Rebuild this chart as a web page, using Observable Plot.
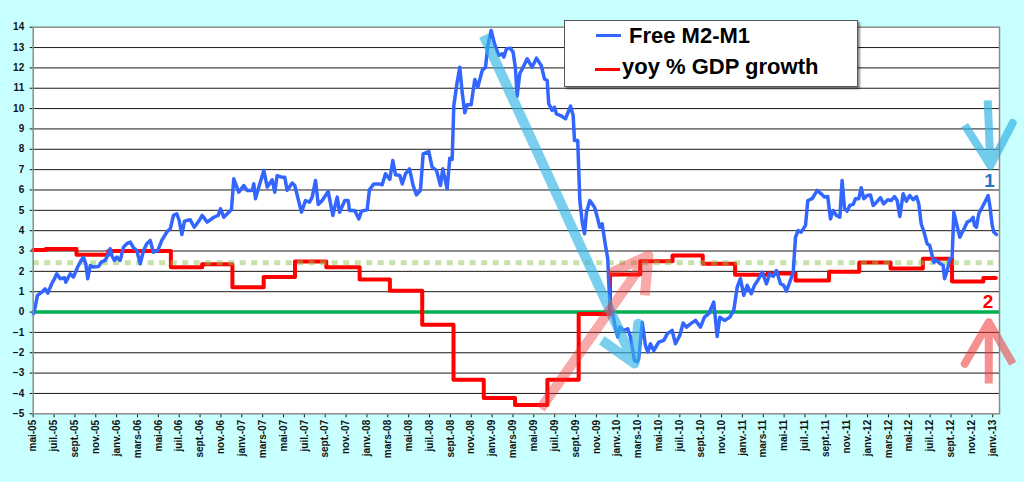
<!DOCTYPE html>
<html>
<head>
<meta charset="utf-8">
<script src="https://cdn.jsdelivr.net/npm/d3@7"></script>
<script src="https://cdn.jsdelivr.net/npm/@observablehq/plot@0.6"></script>
<style>
html, body { margin: 0; padding: 0; background: #c8ffff; }
#wrap { position: relative; width: 1024px; height: 482px; overflow: hidden; font-family: "Liberation Sans", Arial, sans-serif; }
#legend { position: absolute; left: 564px; top: 20px; width: 292px; height: 65px; background: #fff; border: 1px solid #555; box-shadow: 2px 2px 2px rgba(0,0,0,0.45); }
.sw { position: absolute; height: 3px; width: 25px; }
.lt { position: absolute; font-weight: bold; font-size: 22px; line-height: 22px; color: #000; white-space: nowrap; }
</style>
</head>
<body>
<div id="wrap">
  <div id="chart"></div>
  <div id="legend">
    <div class="sw" style="left:31px;top:13px;background:#3366ff"></div>
    <div class="lt" id="lg1" style="left:64px;top:4px"></div>
    <div class="sw" style="left:30px;top:47px;background:#ff0000"></div>
    <div class="lt" id="lg2" style="left:57px;top:35px"></div>
  </div>
</div>
<script>
// ---- data (x = months since May 2005) ----
const seriesNames = ["Free M2-M1", "yoy % GDP growth"];

const tickLabels = [
  "mai-05","juil.-05","sept.-05","nov.-05",
  "janv.-06","mars-06","mai-06","juil.-06","sept.-06","nov.-06",
  "janv.-07","mars-07","mai-07","juil.-07","sept.-07","nov.-07",
  "janv.-08","mars-08","mai-08","juil.-08","sept.-08","nov.-08",
  "janv.-09","mars-09","mai-09","juil.-09","sept.-09","nov.-09",
  "janv.-10","mars-10","mai-10","juil.-10","sept.-10","nov.-10",
  "janv.-11","mars-11","mai-11","juil.-11","sept.-11","nov.-11",
  "janv.-12","mars-12","mai-12","juil.-12","sept.-12","nov.-12",
  "janv.-13"
];
const yTicks = [-5,-4,-3,-2,-1,0,1,2,3,4,5,6,7,8,9,10,11,12,13,14];

const blueSeries = [
[0.03,-0.08],[0.19,0.24],[0.41,0.82],[0.82,0.98],[1.15,1.14],[1.40,0.93],[1.78,1.39],[2.04,1.64],[2.26,1.88],[2.59,1.64],
[3.00,1.69],[3.13,1.47],[3.55,1.88],[3.86,1.72],[4.28,2.24],[4.60,2.54],[4.82,2.70],[5.04,2.37],[5.23,1.64],[5.47,2.29],
[5.78,2.21],[6.26,2.24],[6.52,2.45],[6.90,2.54],[7.22,2.86],[7.38,3.11],[7.54,2.78],[7.79,2.54],[8.02,2.70],[8.34,2.54],
[8.66,3.19],[8.97,3.36],[9.30,3.44],[9.62,3.16],[9.93,3.03],[10.26,2.37],[10.58,3.03],[10.89,3.36],[11.22,3.52],[11.53,2.94],
[11.95,3.03],[12.33,3.52],[12.81,3.93],[13.14,4.09],[13.45,4.75],[13.77,4.83],[14.00,4.50],[14.25,3.81],[14.51,4.47],[15.05,4.54],
[15.44,4.17],[15.92,4.50],[16.20,4.75],[16.68,4.42],[17.32,4.66],[17.74,4.75],[17.96,5.08],[18.27,4.66],[18.75,4.91],[19.01,5.03],
[19.23,6.55],[19.71,5.89],[20.19,6.22],[20.52,5.98],[21.00,5.98],[21.15,6.30],[21.31,5.57],[21.63,6.14],[22.11,6.96],[22.44,6.14],
[22.91,6.50],[23.16,5.89],[23.39,6.71],[23.81,6.63],[24.12,6.63],[24.35,5.98],[24.83,6.34],[25.08,6.22],[25.72,4.91],[26.11,5.48],
[26.49,5.40],[26.75,5.65],[27.07,6.47],[27.33,5.29],[27.71,5.48],[28.28,5.93],[28.73,4.75],[29.15,5.65],[29.37,4.91],[29.88,5.48],
[30.20,5.48],[30.33,4.99],[30.83,4.99],[31.22,4.58],[31.48,4.96],[32.02,5.03],[32.24,6.01],[32.66,6.30],[33.14,6.30],[33.46,6.26],
[33.78,6.80],[34.19,6.52],[34.48,7.45],[34.74,6.75],[35.15,6.71],[35.38,6.30],[35.70,6.80],[36.08,7.04],[36.43,6.22],[36.75,5.76],
[37.13,5.98],[37.39,7.78],[37.93,7.89],[38.25,7.12],[38.67,6.96],[39.05,6.22],[39.27,7.04],[39.69,6.06],[39.94,7.56],[40.17,7.50],
[40.33,10.15],[40.65,11.30],[40.90,12.03],[41.13,10.80],[41.38,9.79],[41.61,10.19],[41.99,10.19],[42.34,11.43],[42.63,11.05],[43.05,11.87],
[43.37,12.03],[43.59,13.10],[43.91,13.84],[44.23,13.18],[44.64,12.61],[44.97,12.69],[45.12,12.53],[45.38,12.94],[45.76,12.97],[46.02,12.77],
[46.24,11.96],[46.40,10.61],[46.65,11.71],[47.04,12.10],[47.36,12.45],[47.84,12.03],[48.25,12.48],[48.71,12.12],[49.02,11.46],[49.28,11.38],
[49.43,10.24],[49.76,9.91],[49.98,10.07],[50.17,9.74],[50.56,9.66],[51.04,9.50],[51.52,10.12],[51.77,9.66],[51.90,8.43],[52.21,8.43],
[52.41,5.48],[52.64,4.42],[52.86,3.85],[53.05,4.91],[53.37,5.48],[53.82,5.15],[54.13,4.58],[54.32,4.17],[54.55,4.34],[54.87,3.27],
[55.09,2.62],[55.19,1.39],[55.35,0.16],[55.61,-0.17],[55.83,-0.82],[56.05,-1.23],[56.24,-0.74],[56.63,-0.90],[57.01,-0.82],[57.27,-1.23],
[57.65,-2.38],[57.91,-2.45],[58.06,-2.30],[58.39,-0.50],[58.70,-1.64],[58.93,-1.97],[59.18,-1.56],[59.50,-1.89],[59.98,-1.48],[60.46,-1.39],
[60.79,-1.07],[61.26,-0.90],[61.58,-1.56],[61.99,-1.15],[62.32,-0.54],[62.64,-0.74],[63.02,-0.58],[63.50,-0.41],[63.98,-0.74],[64.36,-0.25],
[64.77,-0.08],[65.25,0.49],[65.58,-1.20],[65.83,-0.25],[66.28,-0.41],[66.79,-0.25],[67.17,0.08],[67.50,1.22],[67.81,1.64],[68.13,0.82],
[68.46,1.31],[68.84,0.90],[69.16,1.31],[69.47,1.55],[69.89,1.96],[70.31,1.39],[70.62,1.88],[70.95,1.75],[71.26,2.04],[71.65,1.39],
[71.96,1.31],[72.22,1.03],[72.54,1.47],[72.87,1.96],[73.09,3.68],[73.35,4.01],[73.63,3.93],[74.05,4.26],[74.27,5.48],[74.69,5.57],
[75.17,5.98],[75.55,5.81],[75.87,5.65],[76.18,5.68],[76.44,4.58],[76.70,4.99],[77.02,4.75],[77.34,4.66],[77.56,6.47],[77.79,5.08],
[78.04,4.96],[78.29,5.24],[78.62,5.29],[78.84,5.57],[79.16,5.57],[79.39,6.11],[79.64,5.57],[79.96,5.73],[80.28,5.75],[80.54,5.24],
[80.86,5.40],[81.24,5.62],[81.55,5.32],[81.94,5.52],[82.26,5.48],[82.58,5.68],[82.84,5.48],[83.09,4.70],[83.41,5.81],[83.73,5.45],
[84.05,5.73],[84.37,5.52],[84.69,5.68],[84.91,5.32],[85.14,4.34],[85.46,3.85],[85.71,3.36],[85.96,3.27],[86.19,2.78],[86.35,2.45],
[86.61,2.54],[86.99,2.37],[87.25,2.29],[87.38,1.64],[87.64,2.04],[87.88,2.62],[88.11,2.70],[88.27,4.91],[88.53,4.34],[88.84,3.68],
[89.17,4.01],[89.55,4.42],[89.87,4.50],[90.12,4.66],[90.25,4.26],[90.44,4.17],[90.66,4.83],[90.99,5.15],[91.24,5.40],[91.56,5.73],
[91.72,5.24],[91.95,4.26],[92.10,3.93],[92.36,3.81]
];

const redSeries = [
[0,3.05],[1.2,3.1],[4.15,2.82],[7.2,3.0],[13.2,2.2],[16.2,2.35],[19.1,1.22],[22.1,1.72],[25.1,2.48],[28.1,2.2],
[31.3,1.6],[34.2,1.05],[37.3,-0.62],[40.3,-3.33],[43.2,-4.22],[46.2,-4.57],[49.3,-3.33],[52.3,-0.1],[55.3,1.85],[58.2,2.5],
[61.3,2.78],[64.2,2.38],[67.3,1.83],[70.4,1.9],[73.1,1.55],[76.3,1.98],[79.2,2.44],[82.2,2.14],[85.3,2.62],[88.1,1.5],
[91.1,1.67],[92.3,1.67]
];

const trendLevel = [2.42];
const zeroLevel = [0];

// annotation arrows (data coordinates: month, value)
const arrowSpecs = [
  {id:"down", x1:43.2,  y1:13.59, x2:57.65, y2:-2.53, wing:40, color:"#33b5e5", opacity:0.65, width:10},
  {id:"up",   x1:48.65, y1:-4.75, x2:58.99, y2:2.78,  wing:40, color:"#ee3333", opacity:0.42, width:10},
  {id:"r1",   x1:91.52, y1:10.4,  x2:91.78, y2:7.2,   wing:48, color:"#33b5e5", opacity:0.7,  width:8},
  {id:"r2",   x1:91.62, y1:-3.51, x2:91.62, y2:-0.5,  wing:48, color:"#ee3333", opacity:0.55, width:8}
];
const noteLabels = [
  {x:91.69, y:6.46, text:"1", color:"#1f78c0"},
  {x:91.55, y:0.5,  text:"2", color:"#ff0000"}
];

// ---- chart ----
document.getElementById("lg1").textContent = seriesNames[0];
document.getElementById("lg2").textContent = seriesNames[1];

const tickMonths = tickLabels.map((_, i) => i * 2);
const blueData = blueSeries.map(([m, v]) => ({m, v}));
const redData = redSeries.map(([m, v]) => ({m, v}));

const layout = {
  width: 1024, height: 482,
  marginLeft: 32.7, marginRight: 25, marginTop: 26.7, marginBottom: 68.7,
  style: {background: "transparent", fontFamily: '"Liberation Sans", Arial, sans-serif', fontSize: "10px", fontWeight: "bold", color: "#111"},
  x: {domain: [0, 92.65], ticks: tickMonths, tickFormat: d => tickLabels[Math.round(d / 2)], tickRotate: -90, tickSize: 4, tickPadding: 2, label: null},
  y: {domain: [-5, 14], ticks: yTicks, tickSize: 3, tickPadding: 6, label: null}
};

const probe = Plot.plot({...layout, marks: [Plot.frame()]});
const sx = probe.scale("x"), sy = probe.scale("y");
const toPx = (s, v) => s.apply ? s.apply(v) : d3.scaleLinear(s.domain, s.range)(v);
const fromPx = (s, p) => s.invert ? s.invert(p) : d3.scaleLinear(s.domain, s.range).invert(p);

function arrowPoints(a) {
  const T = [toPx(sx, a.x1), toPx(sy, a.y1)], P = [toPx(sx, a.x2), toPx(sy, a.y2)];
  const back = Math.atan2(T[1] - P[1], T[0] - P[0]);
  const half = Math.PI / 6;
  const W1 = [P[0] + a.wing * Math.cos(back + half), P[1] + a.wing * Math.sin(back + half)];
  const W2 = [P[0] + a.wing * Math.cos(back - half), P[1] + a.wing * Math.sin(back - half)];
  return [T, P, W1, P, W2].map(p => ({x: fromPx(sx, p[0]), y: fromPx(sy, p[1])}));
}

const arrowMarks = arrowSpecs.map(a => Plot.line(arrowPoints(a), {
  x: "x", y: "y", stroke: a.color, strokeOpacity: a.opacity, strokeWidth: a.width,
  strokeLinejoin: "round", strokeLinecap: "butt"
}));

const chart = Plot.plot({
  ...layout,
  marks: [
    Plot.frame({fill: "white", stroke: null}),
    Plot.ruleY(yTicks.filter(v => v > -5 && v < 14), {stroke: "#1a1a1a", strokeWidth: 1}),
    Plot.ruleY(zeroLevel, {stroke: "#00b050", strokeWidth: 3.5}),
    Plot.line(redData, {x: "m", y: "v", curve: "step-after", stroke: "#ff0000", strokeWidth: 4}),
    Plot.ruleY(trendLevel, {stroke: "#8dc551", strokeOpacity: 0.5, strokeWidth: 5, strokeDasharray: "6,5.5"}),
    Plot.line(blueData, {x: "m", y: "v", stroke: "#3366ff", strokeWidth: 3.5, strokeLinejoin: "round"}),
    ...arrowMarks,
    Plot.text([noteLabels[0]], {x: "x", y: "y", text: "text", fill: noteLabels[0].color, fontSize: 19, fontWeight: "bold"}),
    Plot.text([noteLabels[1]], {x: "x", y: "y", text: "text", fill: noteLabels[1].color, fontSize: 19, fontWeight: "bold"}),
    Plot.frame({stroke: "#8c8c8c", strokeWidth: 1.5})
  ]
});
document.getElementById("chart").appendChild(chart);
</script>
</body>
</html>
